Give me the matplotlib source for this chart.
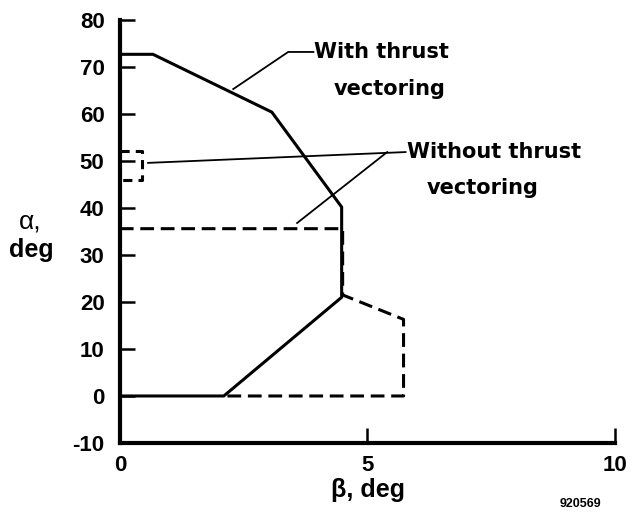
import matplotlib
matplotlib.use("Agg")
import matplotlib.pyplot as plt

plt.rcParams['font.family'] = ['Liberation Sans', 'DejaVu Sans']
plt.rcParams['axes.unicode_minus'] = False

# With thrust vectoring boundary (beta, alpha)
with_beta = [0.0, 2.1, 4.48, 4.48, 3.07, 0.67, 0.0]
with_alpha = [0.0, 0.0, 21.0, 40.2, 60.4, 72.7, 72.7]

# Without thrust vectoring boundary (main region)
without_beta = [0.0, 4.5, 4.5, 5.73, 5.73, 2.1]
without_alpha = [35.6, 35.6, 21.5, 16.3, 0.0, 0.0]

# Without thrust vectoring small island
island_beta = [0.0, 0.45, 0.45, 0.0]
island_alpha = [52.2, 52.2, 46.0, 46.0]

x_ticks = [0, 5, 10]
y_ticks = [-10, 0, 10, 20, 30, 40, 50, 60, 70, 80]

fig = plt.figure(figsize=(6.34, 5.13), dpi=100)
ax = fig.add_axes([0.189, 0.1365, 0.781, 0.8245])
ax.set_xlim(0, 10)
ax.set_ylim(-10, 80)

ax.plot(with_beta, with_alpha, color='black', lw=2.2, solid_joinstyle='miter', clip_on=False)
ax.plot(without_beta, without_alpha, color='black', lw=2.2, ls=(0, (4.5, 2.2)), clip_on=False)
ax.plot(island_beta, island_alpha, color='black', lw=2.2, ls=(0, (3, 2)), clip_on=False)

# leader lines
ax.plot([3.91, 3.40, 2.29], [73.2, 73.2, 65.3], color='black', lw=1.3)
ax.plot([5.77, 0.57], [51.9, 49.6], color='black', lw=1.3)
ax.plot([5.40, 3.58], [51.9, 36.8], color='black', lw=1.3)

tf = dict(fontsize=15, fontweight='bold', color='black', family='DejaVu Sans')
ax.text(3.93, 73.2, "With thrust", ha='left', va='center', **tf)
ax.text(5.45, 65.3, "vectoring", ha='center', va='center', **tf)
ax.text(5.8, 51.9, "Without thrust", ha='left', va='center', **tf)
ax.text(7.33, 44.3, "vectoring", ha='center', va='center', **tf)

for s in ['top', 'right']:
    ax.spines[s].set_visible(False)
for s in ['left', 'bottom']:
    ax.spines[s].set_linewidth(3)

ax.set_xticks(x_ticks)
ax.set_yticks(y_ticks)
ax.tick_params(direction='in', length=11, width=1.8, pad=11, labelsize=16)
for lab in ax.get_xticklabels() + ax.get_yticklabels():
    lab.set_fontweight('bold')
ax.tick_params(axis='x', pad=9)

fig.text(30/634, 1 - 222/513, "α,", ha='center', va='center', fontsize=19)
fig.text(31/634, 1 - 250/513, "deg", ha='center', va='center', fontsize=18, fontweight='bold')
fig.text(368/634, 1 - 490/513, "β, deg", ha='center', va='center', fontsize=18, fontweight='bold')
fig.text(580/634, 1 - 504/513, "920569", ha='center', va='center', fontsize=9, fontweight='bold')

fig.savefig("out.png", dpi=100)
